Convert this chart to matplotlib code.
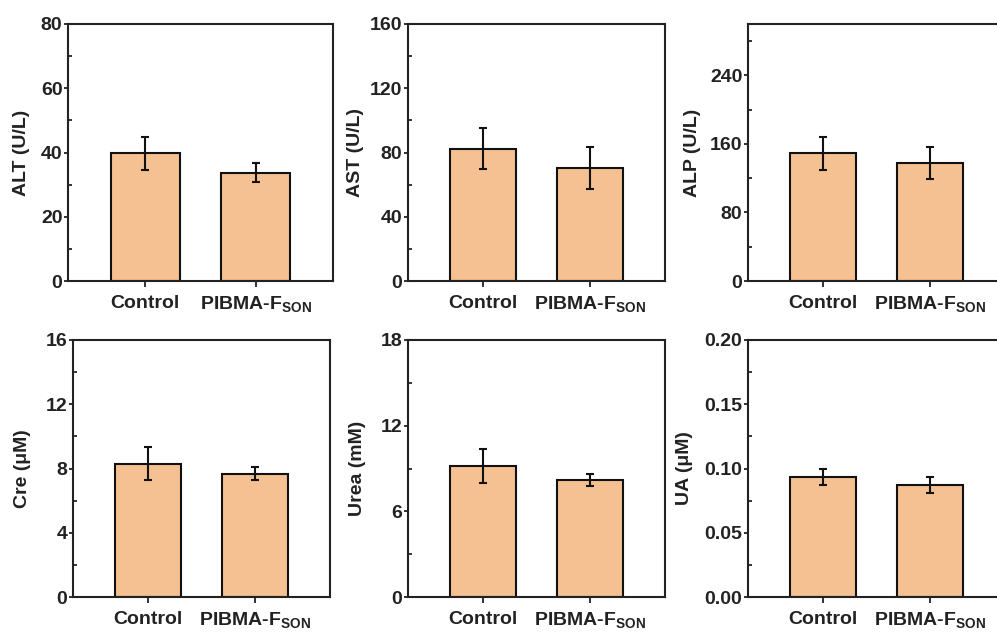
import matplotlib
matplotlib.use("Agg")
import matplotlib.pyplot as plt
from matplotlib.ticker import MultipleLocator

plt.rcParams["font.family"] = ["Liberation Sans", "DejaVu Sans"]
plt.rcParams["font.weight"] = "bold"
plt.rcParams["mathtext.fontset"] = "custom"
plt.rcParams["mathtext.rm"] = "Liberation Sans:bold"
plt.rcParams["mathtext.bf"] = "Liberation Sans:bold"

groups = ["Control", r"PIBMA-F$_{\mathbf{SON}}$"]

labels = ["ALT (U/L)", "AST (U/L)", "ALP (U/L)", "Cre (μM)", "Urea (mM)", "UA (μM)"]
means = [
    [39.8, 33.7],
    [82.3, 70.2],
    [149.0, 138.0],
    [8.3, 7.67],
    [9.15, 8.2],
    [0.0935, 0.087],
]
errs = [
    [5.1, 3.0],
    [12.7, 13.1],
    [19.0, 18.5],
    [1.02, 0.40],
    [1.2, 0.42],
    [0.006, 0.006],
]
ylims = [80, 160, 300, 16, 18, 0.20]
majors = [20, 40, 80, 4, 6, 0.05]
tick_fmt = ["{:.0f}", "{:.0f}", "{:.0f}", "{:.0f}", "{:.0f}", "{:.2f}"]

# axes boxes in pixels: left, top, right, bottom (image coords)
W, H = 997, 633
boxes = [
    (68, 24, 333, 281),
    (408, 24, 665, 281),
    (748, 24, 1005, 281),
    (73, 340, 330, 597),
    (408, 340, 665, 597),
    (748, 340, 1005, 597),
]
label_x = [22, 355, 692, 22, 358, 684]

bar_color = "#F5C092"
ink = "#222222"

fig = plt.figure(figsize=(W / 100, H / 100), dpi=100)

for i in range(6):
    l, t, r, b = boxes[i]
    ax = fig.add_axes([l / W, 1 - b / H, (r - l) / W, (b - t) / H])
    x = [0, 1]
    ax.bar(x, means[i], width=0.62, color=bar_color, edgecolor="#111111",
           linewidth=1.5, zorder=2)
    ax.errorbar(x, means[i], yerr=errs[i], fmt="none", ecolor="#111111",
                elinewidth=1.5, capsize=3, capthick=1.5, zorder=3)
    ax.set_xlim(-0.7, 1.7)
    ticks = []
    v = 0.0
    while v <= ylims[i] + 1e-9:
        ticks.append(v)
        v += majors[i]
    ax.set_yticks(ticks)
    ax.set_yticklabels([tick_fmt[i].format(v) for v in ticks])
    ax.yaxis.set_minor_locator(MultipleLocator(majors[i] / 2))
    ax.set_ylim(0, ylims[i])
    ax.set_xticks(x)
    ax.set_xticklabels(groups)
    for s in ax.spines.values():
        s.set_linewidth(1.5)
        s.set_color("#222222")
    ax.tick_params(axis="y", which="major", direction="out", length=3,
                   width=1.3, colors=ink, labelsize=14, pad=1)
    ax.tick_params(axis="x", which="major", direction="out", length=4,
                   width=1.3, colors=ink, labelsize=14, pad=6)
    ax.tick_params(axis="y", which="minor", direction="in", length=3, width=1.1)
    ax.set_ylabel(labels[i], fontsize=14, fontweight="bold", color=ink)
    ax.yaxis.label.set_verticalalignment("center")
    ax.yaxis.set_label_coords((label_x[i] - l) / (r - l), 0.5)

fig.savefig("out.png", dpi=100)
